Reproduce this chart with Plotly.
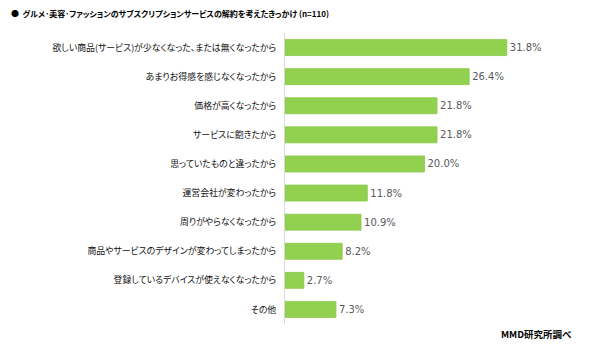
import plotly.graph_objects as go

# Reasons for cancelling gourmet / beauty / fashion subscription services (n=110)
reasons = [
    "欲しい商品(サービス)が少なくなった、または無くなったから",
    "あまりお得感を感じなくなったから",
    "価格が高くなったから",
    "サービスに飽きたから",
    "思っていたものと違ったから",
    "運営会社が変わったから",
    "周りがやらなくなったから",
    "商品やサービスのデザインが変わってしまったから",
    "登録しているデバイスが使えなくなったから",
    "その他",
]
shares = [31.8, 26.4, 21.8, 21.8, 20.0, 11.8, 10.9, 8.2, 2.7, 7.3]
value_labels = [f"{v:.1f}%" for v in shares]

title_text = "●  グルメ･美容･ファッションのサブスクリプションサービスの解約を考えたきっかけ (n=110)"
source_text = "MMD研究所調べ"

JP = "Noto Sans CJK JP"

fig = go.Figure(
    go.Bar(
        x=shares,
        y=reasons,
        orientation="h",
        marker=dict(color="#92D050", line=dict(color="#8BC84A", width=0.8)),
        text=value_labels,
        textposition="outside",
        textfont=dict(family="DejaVu Sans", size=10, color="#595959"),
        cliponaxis=False,
        width=0.55,
        hoverinfo="skip",
    )
)

fig.update_layout(
    width=600,
    height=347,
    margin=dict(l=285, r=36, t=33, b=23, autoexpand=False),
    paper_bgcolor="white",
    plot_bgcolor="white",
    showlegend=False,
    title=dict(
        text="<b>" + title_text + "</b>",
        x=11 / 600, xanchor="left", xref="container",
        y=1 - 14 / 347, yanchor="middle", yref="container",
        font=dict(family=JP, size=8, color="#000000"),
    ),
    xaxis=dict(
        range=[0, 40],
        visible=False,
        fixedrange=True,
    ),
    yaxis=dict(
        categoryorder="array",
        categoryarray=reasons,
        autorange="reversed",
        automargin=False,
        showline=True,
        linecolor="#D9D9D9",
        linewidth=1,
        ticks="",
        showgrid=False,
        ticklabelstandoff=6,
        tickfont=dict(family=JP, size=8.9, color="#111111"),
    ),
    annotations=[
        dict(
            text="<b>" + source_text + "</b>",
            xref="paper", yref="paper",
            x=(574 - 285) / 279, y=-(334 - 324) / 291,
            xanchor="right", yanchor="middle",
            showarrow=False,
            font=dict(family=JP, size=9.5, color="#000000"),
        ),
    ],
)

# proportional kana spacing for the Japanese labels and title
palt_js = """
var gd = document.getElementById('{plot_id}');
gd.querySelectorAll('.ytick text, .gtitle').forEach(function (t) {
  t.style.fontFeatureSettings = '"palt"';
});
"""

fig.write_html("out.html", post_script=palt_js)
